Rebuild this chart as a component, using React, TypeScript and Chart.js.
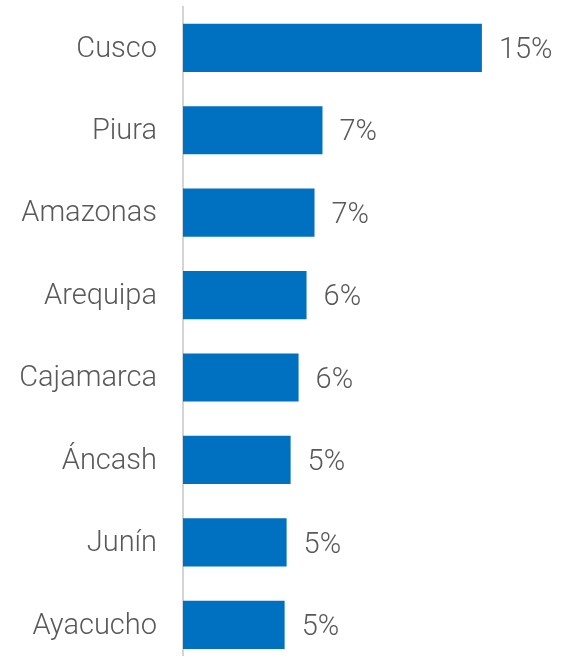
import React, { useEffect, useRef } from "react";
import { Chart, registerables } from "chart.js";

Chart.register(...registerables);

const categories = ["Cusco", "Piura", "Amazonas", "Arequipa", "Cajamarca", "Áncash", "Junín", "Ayacucho"];
const shares = [15.0, 7.0, 6.6, 6.2, 5.8, 5.4, 5.2, 5.1];
const valueLabels = ["15%", "7%", "7%", "6%", "6%", "5%", "5%", "5%"];

const FONT = "Roboto, 'Liberation Sans', Arial, sans-serif";

const valueLabelPlugin = {
  id: "valueLabels",
  afterDatasetsDraw(chart: any) {
    const ctx = chart.ctx;
    const meta = chart.getDatasetMeta(0);
    ctx.save();
    ctx.font = `300 29px ${FONT}`;
    ctx.fillStyle = "#595959";
    ctx.textAlign = "left";
    ctx.textBaseline = "middle";
    meta.data.forEach((bar: any, i: number) => {
      ctx.fillText(valueLabels[i], bar.x + 17, bar.y + 3);
    });
    ctx.restore();
  },
};

export default function App() {
  const ref = useRef<HTMLCanvasElement>(null);
  useEffect(() => {
    document.body.style.margin = "0";
    document.body.style.overflow = "hidden";
    const chart = new Chart(ref.current!, {
      type: "bar",
      data: {
        labels: categories,
        datasets: [
          {
            data: shares,
            backgroundColor: "#0070C0",
            barPercentage: 0.585,
            categoryPercentage: 1,
          },
        ],
      },
      options: {
        indexAxis: "y",
        animation: false,
        responsive: false,
        layout: { padding: { top: 6.6, bottom: 0, left: 0, right: 0 } },
        plugins: { legend: { display: false }, tooltip: { enabled: false } },
        scales: {
          x: { display: false, min: 0, max: 19.17 },
          y: {
            afterFit(scale: any) {
              scale.width = 183;
              scale.paddingTop = 0;
              scale.paddingBottom = 0;
            },
            grid: { display: false, drawTicks: false },
            border: { display: true, color: "#d4d4d4", width: 2 },
            ticks: {
              padding: 26,
              labelOffset: 1.5,
              color: "#595959",
              font: { family: FONT, size: 29, weight: "300" },
            },
          },
        },
      },
      plugins: [valueLabelPlugin],
    });
    return () => chart.destroy();
  }, []);
  return (
    <div style={{ width: 565, height: 666 }}>
      <canvas ref={ref} width={565} height={666} style={{ display: "block" }} />
    </div>
  );
}
